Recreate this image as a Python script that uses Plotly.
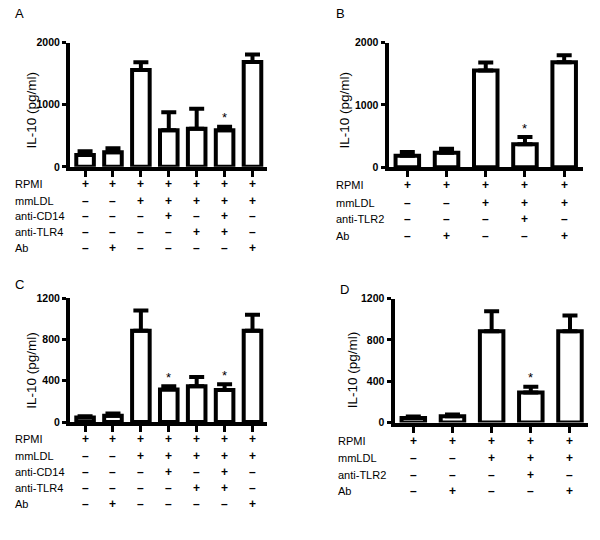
import plotly.graph_objects as go

# ---------------- data ----------------
A_vals = [190, 235, 1560, 590, 615, 590, 1690]
A_err = [60, 65, 125, 290, 320, 55, 120]
A_star = [5]
B_vals = [185, 235, 1555, 370, 1685]
B_err = [60, 65, 125, 115, 115]
B_star = [3]
C_vals = [44, 60, 884, 316, 347, 309, 884]
C_err = [13, 22, 196, 31, 89, 57, 155]
C_star = [3, 5]
D_vals = [44, 60, 884, 290, 884]
D_err = [15, 19, 193, 57, 152]
D_star = [3]

AC_rows = ["RPMI", "mmLDL", "anti-CD14", "anti-TLR4", "Ab"]
AC_table = [
    ["+", "+", "+", "+", "+", "+", "+"],
    ["-", "-", "+", "+", "+", "+", "+"],
    ["-", "-", "-", "+", "-", "+", "-"],
    ["-", "-", "-", "-", "+", "+", "-"],
    ["-", "+", "-", "-", "-", "-", "+"],
]
BD_rows = ["RPMI", "mmLDL", "anti-TLR2", "Ab"]
BD_table = [
    ["+", "+", "+", "+", "+"],
    ["-", "-", "+", "+", "+"],
    ["-", "-", "-", "+", "-"],
    ["-", "+", "-", "-", "+"],
]
y_title = "IL-10 (pg/ml)"
AB_ticks = [0, 1000, 2000]
CD_ticks = [0, 400, 800, 1200]

W, H = 600, 540
FONT = "Liberation Sans, Arial, sans-serif"
LW = 4


def px(x):
    return x / W


def py(y):
    return 1 - y / H


panels = [
    dict(vals=A_vals, err=A_err, stars=A_star, rows=AC_rows, table=AC_table, letter="A",
         ticks=AB_ticks, ymax=2000, x0=70, x1=267, yt=37.5, yb=164.5, xr=[-0.54, 6.52], bw=0.63,
         tx=32, ty=107, lx=13, ly=8, rowy=[182.5, 199, 214.5, 231, 247], labx=13),
    dict(vals=B_vals, err=B_err, stars=B_star, rows=BD_rows, table=BD_table, letter="B",
         ticks=AB_ticks, ymax=2000, x0=388.5, x1=583, yt=37.5, yb=165, xr=[-0.48, 4.48], bw=0.6,
         tx=345, ty=107, lx=334, ly=8, rowy=[183.5, 201, 218, 235], labx=334),
    dict(vals=C_vals, err=C_err, stars=C_star, rows=AC_rows, table=AC_table, letter="C",
         ticks=CD_ticks, ymax=1200, x0=70, x1=267, yt=298.7, yb=425.5, xr=[-0.54, 6.52], bw=0.63,
         tx=32, ty=373, lx=13, ly=285, rowy=[443.3, 460, 476.7, 492.7, 509.3], labx=13),
    dict(vals=D_vals, err=D_err, stars=D_star, rows=BD_rows, table=BD_table, letter="D",
         ticks=CD_ticks, ymax=1200, x0=394.5, x1=588, yt=299.3, yb=426, xr=[-0.48, 4.46], bw=0.6,
         tx=352, ty=372.5, lx=338, ly=290, rowy=[445, 462.7, 479.3, 496], labx=336),
]

fig = go.Figure()
annotations = []
layout = {}

for i, p in enumerate(panels):
    n = i + 1
    xa = "x" if n == 1 else f"x{n}"
    ya = "y" if n == 1 else f"y{n}"
    xk = "xaxis" if n == 1 else f"xaxis{n}"
    yk = "yaxis" if n == 1 else f"yaxis{n}"
    idx = list(range(len(p["vals"])))
    fig.add_trace(go.Bar(
        x=idx, y=p["vals"], width=p["bw"], xaxis=xa, yaxis=ya,
        marker=dict(color="white", line=dict(color="black", width=LW)),
        error_y=dict(type="data", array=p["err"], arrayminus=[0] * len(idx), symmetric=False,
                     color="black", thickness=LW, width=7.5),
        showlegend=False, hoverinfo="skip",
    ))
    layout[xk] = dict(domain=[px(p["x0"]), px(p["x1"])], range=p["xr"], anchor=ya,
                      showline=True, linecolor="black", linewidth=LW,
                      tickmode="array", tickvals=idx, ticktext=[""] * len(idx),
                      ticks="outside", ticklen=6, tickwidth=LW - 1, tickcolor="black",
                      showgrid=False, zeroline=False, fixedrange=True)
    layout[yk] = dict(domain=[py(p["yb"]), py(p["yt"])], range=[0, p["ymax"]], anchor=xa,
                      showline=True, linecolor="black", linewidth=LW,
                      tickmode="array", tickvals=p["ticks"], ticktext=[str(t) for t in p["ticks"]],
                      ticks="outside", ticklen=4, tickwidth=LW - 1, tickcolor="black",
                      tickfont=dict(family=FONT, size=10.5, color="black", weight="bold"),
                      showgrid=False, zeroline=False, fixedrange=True)
    annotations.append(dict(x=px(p["tx"]), y=py(p["ty"]), xref="paper", yref="paper",
                            text=y_title, textangle=-90, showarrow=False,
                            font=dict(family=FONT, size=13.5, color="black"),
                            xanchor="center", yanchor="middle"))
    annotations.append(dict(x=px(p["lx"]), y=py(p["ly"]), xref="paper", yref="paper",
                            text=p["letter"], showarrow=False,
                            font=dict(family=FONT, size=13, color="black"),
                            xanchor="left", yanchor="middle"))
    for s in p["stars"]:
        annotations.append(dict(x=s, y=p["vals"][s] + p["err"][s], xref=xa, yref=ya,
                                text="*", showarrow=False, yshift=9,
                                font=dict(family=FONT, size=13, color="black"),
                                xanchor="center", yanchor="middle"))
    for r, (lab, row) in enumerate(zip(p["rows"], p["table"])):
        yy = py(p["rowy"][r])
        annotations.append(dict(x=px(p["labx"]), y=yy, xref="paper", yref="paper",
                                text=lab, showarrow=False,
                                font=dict(family=FONT, size=11, color="black"),
                                xanchor="left", yanchor="middle"))
        for c, sym in enumerate(row):
            annotations.append(dict(x=c, y=yy, xref=xa, yref="paper",
                                    text=("+" if sym == "+" else "–"), showarrow=False,
                                    font=dict(family=FONT, size=12, color="black", weight="bold"),
                                    xanchor="center", yanchor="middle"))

fig.update_layout(
    width=W, height=H, margin=dict(l=0, r=0, t=0, b=0),
    paper_bgcolor="white", plot_bgcolor="white",
    annotations=annotations, bargap=0.3,
    **layout,
)
fig.write_html("out.html", config={"displayModeBar": False},
               post_script="document.body.style.margin='0';")
